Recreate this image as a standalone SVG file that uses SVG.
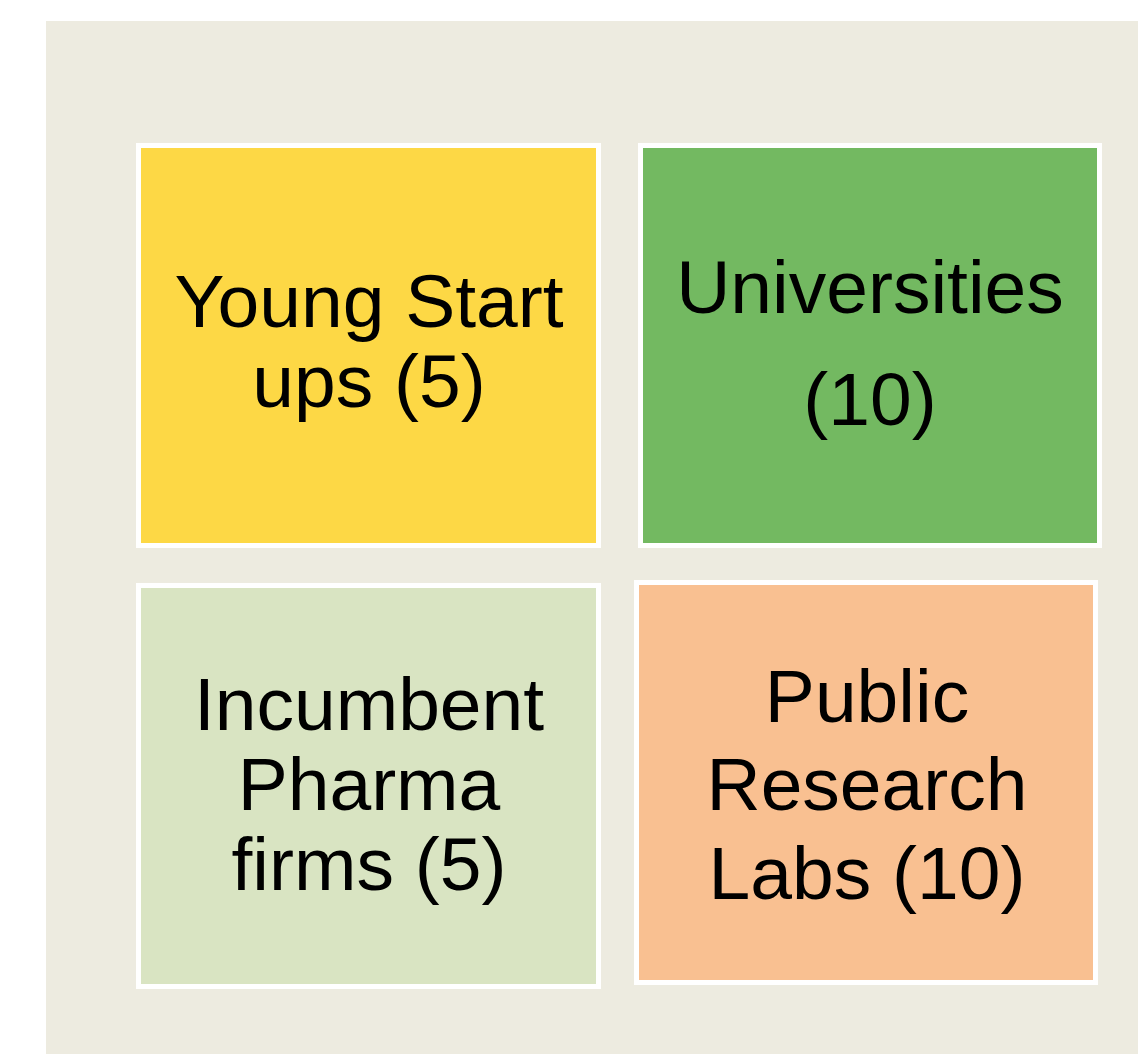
<svg xmlns="http://www.w3.org/2000/svg" width="1138" height="1054" viewBox="0 0 1138 1054">
  <style>
    .card { stroke: #FFFFFF; stroke-width: 5; }
    .label { font-family: "Liberation Sans", Arial, sans-serif; font-size: 75px; fill: #000000; text-anchor: middle; }
  </style>
  <rect width="1138" height="1054" fill="#FFFFFF"/>
  <!-- panel background -->
  <rect x="46" y="21" width="1092" height="1033" fill="#EDEBE0"/>

  <g id="young-startups">
    <rect class="card" x="138.5" y="145.5" width="460" height="400" fill="#FDD845"/>
    <text class="label" x="369" y="327">Young Start</text>
    <text class="label" x="369" y="407">ups (5)</text>
  </g>

  <g id="universities">
    <rect class="card" x="640.5" y="145.5" width="459" height="400" fill="#73B961"/>
    <text class="label" x="870" y="313">Universities</text>
    <text class="label" x="870" y="425">(10)</text>
  </g>

  <g id="incumbent-pharma">
    <rect class="card" x="138.5" y="585.5" width="460" height="401" fill="#D9E4C2"/>
    <text class="label" x="369" y="730">Incumbent</text>
    <text class="label" x="369" y="810">Pharma</text>
    <text class="label" x="369" y="890">firms (5)</text>
  </g>

  <g id="public-research-labs">
    <rect class="card" x="636.5" y="582.5" width="459" height="400" fill="#F9C091"/>
    <text class="label" x="867" y="722">Public</text>
    <text class="label" x="867" y="810">Research</text>
    <text class="label" x="867" y="899">Labs (10)</text>
  </g>

  <g id="connectors"/>
</svg>
